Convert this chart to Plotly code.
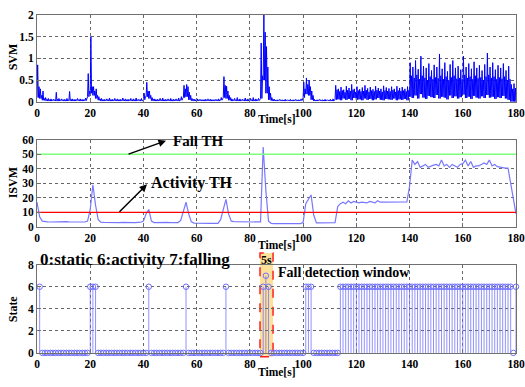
import numpy as np
import plotly.graph_objects as go

# ---------------- data ----------------
t_sec = list(range(0, 181))

# per-second peak (spike), typical band top, and band bottom of the SVM signal
svm_hi = ([0.85, 0.30, 0.25, 0.10, 0.08, 0.07, 0.06, 0.22, 0.08, 0.07, 0.06, 0.08, 0.24, 0.07, 0.06,
           0.08, 0.07, 0.06, 0.09, 0.65, 1.50, 0.35, 0.30, 0.12, 0.08] +
          [0.06, 0.07, 0.09, 0.06, 0.08, 0.07, 0.06, 0.09, 0.07, 0.06, 0.08, 0.07, 0.09, 0.06, 0.08] +
          [0.20, 0.45, 0.25, 0.10] +
          [0.07, 0.06, 0.08, 0.09, 0.06, 0.07, 0.08, 0.06, 0.07, 0.09, 0.12] +
          [0.38, 0.40, 0.22, 0.08] +
          [0.06, 0.07, 0.06, 0.05, 0.06, 0.07, 0.06, 0.05, 0.06, 0.07, 0.10] +
          [0.58, 0.36, 0.15] +
          [0.07, 0.08, 0.10, 0.07, 0.06, 0.09, 0.07, 0.08, 0.10, 0.07, 0.08] +
          [1.35, 2.00, 1.27, 0.35, 0.10] +
          [0.06, 0.05, 0.06, 0.05, 0.06, 0.05, 0.06, 0.05, 0.06, 0.05, 0.07] +
          [0.45, 0.55, 0.50, 0.25] +
          [0.06, 0.05, 0.06, 0.05, 0.06, 0.05, 0.06, 0.07] +
          [0.38] +
          [0.30, 0.34, 0.28, 0.36, 0.32, 0.40, 0.30, 0.35, 0.29, 0.33, 0.38, 0.31, 0.34, 0.29, 0.36,
           0.32, 0.30, 0.37, 0.33, 0.31, 0.35, 0.30, 0.36, 0.32, 0.34, 0.30, 0.35] +
          [0.90, 0.80, 0.95, 0.75, 1.05, 0.82, 0.78, 0.88, 0.72, 0.85, 0.80, 1.10, 0.76, 0.90, 0.70,
           0.86, 0.95, 0.78, 0.82, 0.74, 1.05, 0.80, 0.88, 0.76, 0.92, 0.78, 0.84, 0.72, 0.86, 1.12,
           0.80, 0.90, 0.74, 0.84, 0.78, 0.88, 0.72, 0.82] +
          [0.40, 0.42, 0.35])

svm_mid = ([0.35, 0.15, 0.08, 0.06, 0.05, 0.05, 0.05, 0.06, 0.05, 0.05, 0.05, 0.05, 0.06, 0.05, 0.05,
            0.05, 0.05, 0.05, 0.06, 0.25, 0.35, 0.25, 0.15, 0.07, 0.05] +
           [0.05] * 15 +
           [0.12, 0.25, 0.15, 0.06] +
           [0.05] * 10 + [0.08] +
           [0.30, 0.35, 0.15, 0.06] +
           [0.05] * 10 + [0.07] +
           [0.38, 0.25, 0.10] +
           [0.05] * 11 +
           [0.60, 1.60, 0.80, 0.20, 0.06] +
           [0.04] * 11 +
           [0.30, 0.40, 0.35, 0.15] +
           [0.04] * 8 +
           [0.28] +
           [0.24, 0.26, 0.22, 0.27, 0.25, 0.28, 0.23, 0.26, 0.24, 0.25, 0.27, 0.23, 0.26, 0.24, 0.27,
            0.25, 0.23, 0.26, 0.25, 0.24, 0.27, 0.23, 0.26, 0.25, 0.26, 0.24, 0.27] +
           [0.60, 0.55, 0.62, 0.52, 0.60, 0.55, 0.50, 0.58, 0.52, 0.56, 0.54, 0.60, 0.52, 0.58, 0.50,
            0.56, 0.60, 0.53, 0.55, 0.52, 0.62, 0.55, 0.58, 0.52, 0.60, 0.54, 0.56, 0.50, 0.58, 0.62,
            0.55, 0.58, 0.52, 0.56, 0.53, 0.58, 0.50, 0.52] +
           [0.30, 0.32, 0.25])

svm_lo = ([0.10, 0.08, 0.04, 0.03, 0.02, 0.02, 0.03, 0.02, 0.02, 0.03, 0.02, 0.02, 0.03, 0.02, 0.02,
           0.03, 0.02, 0.02, 0.03, 0.12, 0.20, 0.15, 0.08, 0.04, 0.02] +
          [0.02, 0.03, 0.02, 0.02, 0.03, 0.02, 0.02, 0.03, 0.02, 0.02, 0.03, 0.02, 0.02, 0.03, 0.02] +
          [0.05, 0.12, 0.08, 0.03] +
          [0.02, 0.02, 0.03, 0.02, 0.02, 0.03, 0.02, 0.02, 0.03, 0.02, 0.04] +
          [0.10, 0.12, 0.05, 0.03] +
          [0.02, 0.02, 0.03, 0.02, 0.02, 0.03, 0.02, 0.02, 0.03, 0.02, 0.04] +
          [0.10, 0.08, 0.04] +
          [0.02, 0.03, 0.02, 0.02, 0.03, 0.02, 0.02, 0.03, 0.02, 0.02, 0.03] +
          [0.08, 0.50, 0.20, 0.05, 0.03] +
          [0.02, 0.02, 0.03, 0.02, 0.02, 0.03, 0.02, 0.02, 0.03, 0.02, 0.03] +
          [0.10, 0.18, 0.15, 0.05] +
          [0.02, 0.02, 0.03, 0.02, 0.02, 0.03, 0.02, 0.02] +
          [0.05] +
          [0.06, 0.04, 0.08, 0.05, 0.07, 0.04, 0.09, 0.05, 0.06, 0.04, 0.08, 0.05, 0.07, 0.04, 0.06,
           0.09, 0.05, 0.04, 0.07, 0.06, 0.05, 0.08, 0.04, 0.06, 0.05, 0.07, 0.04] +
          [0.12, 0.09, 0.15, 0.08, 0.18, 0.10, 0.07, 0.14, 0.11, 0.09, 0.16, 0.08, 0.12, 0.10, 0.06,
           0.15, 0.09, 0.13, 0.08, 0.11, 0.17, 0.09, 0.12, 0.07, 0.14, 0.10, 0.08, 0.13, 0.09, 0.16,
           0.10, 0.12, 0.07, 0.11, 0.09, 0.14, 0.08, 0.05] +
          [0.01, 0.01, 0.01])

isvm = ([17, 7, 4] +
        [3.6, 3.5, 3.4, 3.5, 3.6, 3.5, 3.5, 3.4, 3.6, 3.5, 3.5, 3.6, 3.4, 3.5, 3.5, 3.4] +
        [4, 12, 29, 15, 5, 3.2] +
        [3.1, 3.0, 3.2, 3.0, 3.1, 2.9, 3.0, 3.1, 3.0, 2.9, 3.1, 3.0, 3.0, 3.1, 3.2] +
        [4, 9, 12, 4] +
        [3.0, 3.1, 3.0, 2.9, 3.0, 3.1, 3.0, 3.0, 3.1, 3.0, 4.5] +
        [10, 17, 9, 3.5] +
        [2.6, 2.5, 2.4, 2.5, 2.6, 2.5, 2.4, 2.5, 2.6, 2.5, 5] +
        [12, 19, 9, 4] +
        [3.6, 3.5, 3.5, 3.4, 3.5, 3.6, 3.5, 3.4, 3.5, 3.5] +
        [3.5, 55, 25, 4, 2.5] +
        [2.3, 2.3, 2.2, 2.3, 2.3, 2.2, 2.3, 2.3, 2.2, 2.3, 2.3] +
        [3, 16, 19, 22, 8] +
        [2.8, 2.8, 2.8, 2.7, 2.8, 2.8, 2.8] +
        [3, 14, 16, 17, 16, 18, 16.5, 17.5, 17, 16.5, 17, 17, 16.5, 17.5, 17, 16.5, 18, 17, 17] +
        [17, 17.2, 16.8, 17, 17.1, 17, 16.9, 17, 17.2] +
        [28, 46, 43, 45, 41, 42, 43, 41, 42, 42.5, 43, 42, 46, 42, 43, 41, 43, 42, 41, 43,
         43.5, 46, 42, 45, 41, 42, 42, 43, 44, 43, 46, 42, 43, 41.5, 41, 41, 40.5, 40.5] +
        [30, 20, 9])

fall_th = 50
activity_th = 10

state_t = list(range(1, 181))
state = ([6] + [0] * 18 + [6, 6, 6] + [0] * 19 + [6] + [0] * 13 + [6] + [0] * 14 + [6] +
         [0] * 13 + [6, 7, 6] + [0] * 13 + [6, 6, 6] + [0] * 10 + [6] * 65 + [0, 6])

x_ticks = [0, 20, 40, 60, 80, 100, 120, 140, 160, 180]
fall_window = [83.8, 88.7]

# ---------------- figure ----------------
W, H = 525, 387
ML, MR = 37, 9
PW = W - ML - MR


def py(p):  # pixel row -> paper y
    return 1 - p / H


def px(p):  # pixel column -> paper x
    return (p - ML) / PW


blue = "#0000ff"
light_blue = "#7878ff"
font_fam = "Liberation Serif"

fig = go.Figure()

# SVM: each second drawn as low, spike, low, band-top
svm_x, svm_y = [], []
for t, lo, mid, hi in zip(t_sec, svm_lo, svm_mid, svm_hi):
    svm_x += [t, t + 0.25, t + 0.5, t + 0.75]
    svm_y += [lo, hi, lo, mid]
fig.add_trace(go.Scatter(x=svm_x, y=svm_y, mode="lines", line=dict(color=blue, width=1),
                         xaxis="x", yaxis="y", showlegend=False))

# ISVM
fig.add_trace(go.Scatter(x=t_sec, y=isvm, mode="lines", line=dict(color=light_blue, width=1.2),
                         xaxis="x2", yaxis="y2", showlegend=False))
fig.add_trace(go.Scatter(x=[0, 180], y=[fall_th, fall_th], mode="lines",
                         line=dict(color="#7dff7d", width=1.3), xaxis="x2", yaxis="y2", showlegend=False))
fig.add_trace(go.Scatter(x=[0, 180], y=[activity_th, activity_th], mode="lines",
                         line=dict(color="#ff0000", width=1.3), xaxis="x2", yaxis="y2", showlegend=False))

# State stems
sx, sy = [], []
for t, v in zip(state_t, state):
    if v > 0:
        sx += [t, t, None]
        sy += [0, v, None]
fig.add_trace(go.Scatter(x=sx, y=sy, mode="lines", line=dict(color="rgba(110,110,255,0.75)", width=1),
                         xaxis="x3", yaxis="y3", showlegend=False))
fig.add_trace(go.Scatter(x=state_t, y=state, mode="markers", cliponaxis=False,
                         marker=dict(symbol="circle-open", size=5.5, color="#6f6fff", line=dict(width=1)),
                         xaxis="x3", yaxis="y3", showlegend=False))

axis_common = dict(showline=True, mirror=True, linecolor="#707070", linewidth=1,
                   ticks="inside", ticklen=4, tickcolor="#707070",
                   showgrid=True, gridcolor="#666666", griddash="dot", gridwidth=1,
                   zeroline=False,
                   tickfont=dict(family=font_fam, size=11.5, color="black", weight="bold"))

xaxis_common = dict(axis_common, range=[0, 180], tickvals=x_ticks, domain=[0, 1])

doms = [(py(99), py(9)), (py(228), py(138)), (py(358), py(267))]

fig.update_layout(
    width=W, height=H,
    margin=dict(l=ML, r=MR, t=0, b=0),
    paper_bgcolor="white", plot_bgcolor="white",
    font=dict(family=font_fam, color="black"),
    xaxis=dict(xaxis_common, anchor="y"),
    xaxis2=dict(xaxis_common, anchor="y2"),
    xaxis3=dict(xaxis_common, anchor="y3"),
    yaxis=dict(axis_common, anchor="x", domain=doms[0], range=[0, 2], tickvals=[0, 0.5, 1, 1.5, 2],
               ticktext=["0", "0.5", "1", "1.5", "2"]),
    yaxis2=dict(axis_common, anchor="x2", domain=doms[1], range=[0, 60], tickvals=[0, 10, 20, 30, 40, 50, 60]),
    yaxis3=dict(axis_common, anchor="x3", domain=doms[2], range=[0, 8], tickvals=[0, 2, 4, 6, 8]),
)

# Fall detection window rectangle
fig.add_shape(type="rect", xref="x3", yref="paper", x0=fall_window[0], x1=fall_window[1],
              y0=py(362), y1=py(255), layer="below",
              fillcolor="#fde09a", line=dict(color="#ff2020", width=1.5, dash="dash"))


def bold(s):
    return dict(family=font_fam, size=s, color="black", weight="bold")


anns = []
# axis titles
for yc in [117, 247, 378]:
    anns.append(dict(x=px(276.5), y=py(yc), xref="paper", yref="paper", text="Time[s]",
                     showarrow=False, font=bold(11.5), xanchor="center", yanchor="middle"))
for txt, yc in [("SVM", 53), ("ISVM", 183), ("State", 313)]:
    anns.append(dict(x=px(13), y=py(yc), xref="paper", yref="paper", text=txt, textangle=-90,
                     showarrow=False, font=bold(12), xanchor="center", yanchor="middle"))

anns.append(dict(x=(fall_window[0] + fall_window[1]) / 2, xref="x3", y=py(262), yref="paper",
                 text="5s", showarrow=False, font=bold(12), xanchor="center", yanchor="middle"))
anns.append(dict(x=px(276), xref="paper", y=py(275), yref="paper", text="Fall detection window",
                 showarrow=False, font=bold(14), xanchor="left", yanchor="middle"))
anns.append(dict(x=px(38), xref="paper", y=py(262), yref="paper", text="0:static 6:activity 7:falling",
                 showarrow=False, font=bold(17), xanchor="left", yanchor="middle"))
anns.append(dict(x=px(171), xref="paper", y=py(139), yref="paper", text="Fall TH",
                 showarrow=False, font=bold(15), xanchor="left", yanchor="middle"))
anns.append(dict(x=px(149), xref="paper", y=py(183), yref="paper", text="Activity TH",
                 showarrow=False, font=bold(16), xanchor="left", yanchor="middle"))
# arrows
for (hx, hy, tx, ty) in [(166, 139, 127, 153), (147, 184, 118, 213)]:
    anns.append(dict(x=px(hx), y=py(hy), xref="paper", yref="paper", text="",
                     showarrow=True, axref="pixel", ayref="pixel", ax=tx - hx, ay=ty - hy,
                     arrowhead=2, arrowsize=1, arrowwidth=1.5, arrowcolor="black"))
fig.update_layout(annotations=anns)

fig.write_html("out.html")
